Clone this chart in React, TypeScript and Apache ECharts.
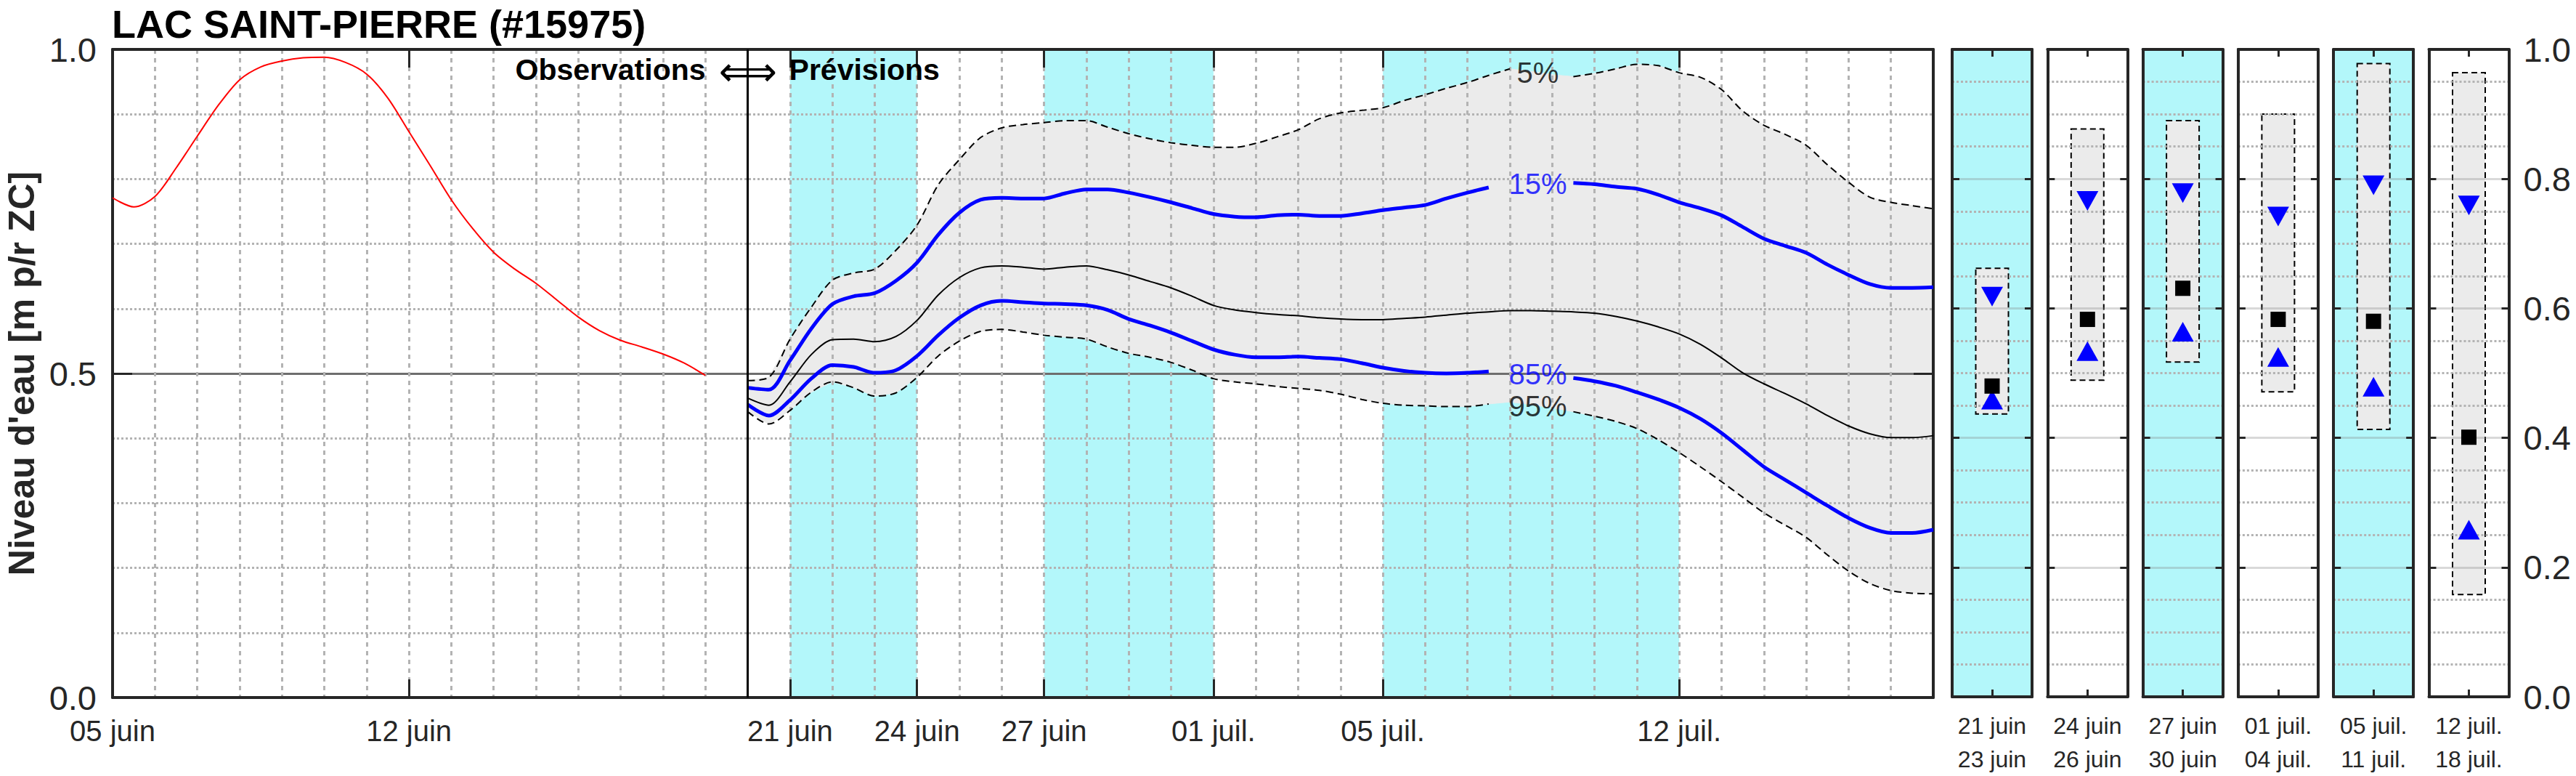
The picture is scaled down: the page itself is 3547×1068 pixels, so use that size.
import React, { useEffect, useRef } from 'react';
import * as echarts from 'echarts';

// ---------- DATA ----------
const TITLE = 'LAC SAINT-PIERRE (#15975)';
const Y_NAME = "Niveau d'eau [m p/r ZC]";

// x = days since 05 juin
const OBS_START = 0;
const OBS_STEP = 0.5;
const obsLevels = [
  0.771, 0.757, 0.773, 0.817, 0.866, 0.914, 0.953, 0.973, 0.982, 0.987,
  0.988, 0.980, 0.962, 0.925, 0.873, 0.821, 0.768, 0.724, 0.687, 0.661,
  0.639, 0.613, 0.587, 0.566, 0.551, 0.541, 0.530, 0.516, 0.497,
];

const FC_START = 15;
const FC_STEP = 0.5;
const p05 = [
  0.489, 0.494, 0.553, 0.602, 0.644, 0.655, 0.661, 0.690, 0.729, 0.791,
  0.830, 0.864, 0.879, 0.884, 0.887, 0.890, 0.890, 0.880, 0.870, 0.862,
  0.856, 0.852, 0.849, 0.849, 0.855, 0.865, 0.876, 0.893, 0.902, 0.906,
  0.910, 0.921, 0.930, 0.940, 0.949, 0.960, 0.970, 0.966, 0.961, 0.958,
  0.963, 0.970, 0.977, 0.975, 0.964, 0.957, 0.938, 0.905, 0.883, 0.869,
  0.852, 0.822, 0.795, 0.772, 0.764, 0.759, 0.754,
];
const p15 = [
  0.478, 0.475, 0.520, 0.569, 0.607, 0.619, 0.624, 0.643, 0.671, 0.714,
  0.748, 0.768, 0.771, 0.770, 0.770, 0.778, 0.784, 0.784, 0.779, 0.772,
  0.764, 0.755, 0.746, 0.742, 0.741, 0.744, 0.745, 0.743, 0.743, 0.747,
  0.752, 0.756, 0.760, 0.770, 0.779, 0.787, 0.792, 0.794, 0.795, 0.794,
  0.792, 0.788, 0.785, 0.776, 0.764, 0.755, 0.744, 0.726, 0.708, 0.697,
  0.686, 0.668, 0.652, 0.638, 0.632, 0.632, 0.633,
];
const p50 = [
  0.462, 0.451, 0.487, 0.529, 0.552, 0.553, 0.549, 0.557, 0.582, 0.621,
  0.648, 0.663, 0.666, 0.664, 0.661, 0.664, 0.666, 0.660, 0.652, 0.642,
  0.632, 0.619, 0.605, 0.598, 0.594, 0.591, 0.589, 0.586, 0.584, 0.583,
  0.583, 0.585, 0.587, 0.590, 0.593, 0.595, 0.597, 0.597, 0.596, 0.595,
  0.593, 0.588, 0.581, 0.572, 0.561, 0.545, 0.524, 0.501, 0.484, 0.469,
  0.453, 0.435, 0.419, 0.407, 0.401, 0.401, 0.404,
];
const p85 = [
  0.452, 0.435, 0.459, 0.492, 0.513, 0.510, 0.501, 0.505, 0.527, 0.559,
  0.586, 0.605, 0.612, 0.610, 0.608, 0.607, 0.605, 0.598, 0.584, 0.574,
  0.563, 0.550, 0.537, 0.529, 0.525, 0.525, 0.526, 0.524, 0.522, 0.516,
  0.509, 0.504, 0.501, 0.500, 0.501, 0.503, 0.503, 0.500, 0.496, 0.493,
  0.488, 0.481, 0.471, 0.460, 0.447, 0.430, 0.408, 0.382, 0.356, 0.336,
  0.316, 0.296, 0.277, 0.262, 0.254, 0.254, 0.259,
];
const p95 = [
  0.441, 0.422, 0.443, 0.471, 0.487, 0.478, 0.465, 0.470, 0.494, 0.527,
  0.550, 0.565, 0.568, 0.564, 0.559, 0.556, 0.553, 0.541, 0.531, 0.525,
  0.517, 0.505, 0.492, 0.487, 0.484, 0.480, 0.477, 0.474, 0.468, 0.460,
  0.454, 0.451, 0.450, 0.449, 0.449, 0.453, 0.456, 0.452, 0.447, 0.441,
  0.434, 0.426, 0.415, 0.398, 0.378, 0.356, 0.333, 0.309, 0.285, 0.266,
  0.247, 0.220, 0.195, 0.176, 0.165, 0.161, 0.160,
];

const X_MAX = 43;
const SEPARATOR_DAY = 15;
const tickDays = [0, 7, 16, 19, 22, 26, 30, 37];
const tickLabels = ['05 juin', '12 juin', '21 juin', '24 juin', '27 juin', '01 juil.', '05 juil.', '12 juil.'];
const bandStarts = [16, 22, 30];
const bandEnds = [19, 26, 37];

// percentile curve labels
const labelDay = 33.66;
const pctLabels = ['5%', '15%', '85%', '95%'];
const pctLabelValues = [0.964, 0.793, 0.499, 0.449];
const gapNarrow = [33.25, 34.25];
const gapWide = [32.75, 34.25];

// period summaries
const periodLabels = ['21 juin\n23 juin', '24 juin\n26 juin', '27 juin\n30 juin', '01 juil.\n04 juil.', '05 juil.\n11 juil.', '12 juil.\n18 juil.'];
const periodShaded = [true, false, true, false, true, false];
const periodP05 = [0.662, 0.877, 0.890, 0.900, 0.978, 0.964];
const periodP15 = [0.618, 0.766, 0.778, 0.742, 0.790, 0.759];
const periodP50 = [0.480, 0.583, 0.631, 0.583, 0.580, 0.401];
const periodP85 = [0.459, 0.534, 0.564, 0.525, 0.479, 0.258];
const periodP95 = [0.437, 0.489, 0.517, 0.471, 0.413, 0.158];

// ---------- STYLE ----------
const FONT = '"Liberation Sans", Arial, Helvetica, sans-serif';
const AXIS_COLOR = '#262626';
const CYAN = '#b3f7fa';
const FILL = '#ebebeb';
const GRID_GRAY = '#b3b3b3';
const BLUE = '#0000ff';
const SMOOTH = 0.3;

const MAIN = { left: 155, top: 68, width: 2507, height: 892 };
const PANEL_LEFT = 2688;
const PANEL_STEP = 131.3;
const PANEL_W = 110;
const BOX_W = 45;

const fcDay = (i: number) => FC_START + i * FC_STEP;
const fc = (arr: number[], gap?: number[]) =>
  arr.map((v, i) => {
    const d = fcDay(i);
    if (gap && d > gap[0] && d < gap[1]) return [d, '-'];
    return [d, v];
  });

const frameLine = { show: true, onZero: false, lineStyle: { color: AXIS_COLOR, width: 4 } };

function buildOption(): any {
  const obs = obsLevels.map((v, i) => [OBS_START + i * OBS_STEP, v]);

  const grids: any[] = [{ ...MAIN }];
  const xAxes: any[] = [
    // daily grid lines (data axis)
    {
      gridIndex: 0, type: 'value', min: 0, max: X_MAX, interval: 1, position: 'bottom', z: 3,
      axisLine: { show: false }, axisTick: { show: false }, axisLabel: { show: false },
      splitLine: { show: true, lineStyle: { color: GRID_GRAY, width: 3, type: [6, 6] } },
    },
    // labelled dates
    {
      gridIndex: 0, type: 'value', min: 0, max: X_MAX, interval: 1, position: 'bottom', z: 3,
      axisLine: frameLine,
      axisTick: { show: true, inside: true, length: 25, customValues: tickDays, lineStyle: { color: AXIS_COLOR, width: 3 } },
      axisLabel: {
        show: true, customValues: tickDays, margin: 26, fontSize: 40, color: AXIS_COLOR, fontFamily: FONT,
        formatter: (v: number) => { const k = tickDays.indexOf(Math.round(v)); return k >= 0 ? tickLabels[k] : ''; },
      },
      splitLine: { show: false },
    },
    {
      gridIndex: 0, type: 'value', min: 0, max: X_MAX, interval: 1, position: 'top', z: 3,
      axisLine: frameLine,
      axisTick: { show: true, inside: true, length: 25, customValues: tickDays, lineStyle: { color: AXIS_COLOR, width: 3 } },
      axisLabel: { show: false },
      splitLine: { show: false },
    },
  ];
  const yAxes: any[] = [
    {
      gridIndex: 0, type: 'value', min: 0, max: 1, interval: 0.5, position: 'left', z: 3,
      axisLine: frameLine,
      axisTick: { show: true, inside: true, length: 27, lineStyle: { color: AXIS_COLOR, width: 3 } },
      axisLabel: { show: true, margin: 22, fontSize: 47, color: AXIS_COLOR, fontFamily: FONT, formatter: (v: number) => v.toFixed(1) },
      splitLine: { show: true, lineStyle: { color: '#6e6e6e', width: 3 } },
      minorTick: { show: false, splitNumber: 5 },
      minorSplitLine: { show: true, lineStyle: { color: GRID_GRAY, width: 3, type: [3, 3] } },
    },
    {
      gridIndex: 0, type: 'value', min: 0, max: 1, interval: 0.5, position: 'right', z: 3,
      axisLine: frameLine,
      axisTick: { show: true, inside: true, length: 27, lineStyle: { color: AXIS_COLOR, width: 3 } },
      axisLabel: { show: false },
      splitLine: { show: false },
    },
  ];

  const series: any[] = [
    {
      type: 'custom', name: 'band', xAxisIndex: 0, yAxisIndex: 0, z: 2, silent: true,
      data: p05.map((v, i) => [fcDay(i), v, p95[i]]),
      encode: { x: 0, y: [1, 2] },
      renderItem: (params: any, api: any) => {
        if (params.dataIndex !== 0) return null;
        const up = p05.map((v, i) => api.coord([fcDay(i), v]));
        const lo = p95.map((v, i) => api.coord([fcDay(i), v])).reverse();
        return { type: 'polygon', shape: { points: up.concat(lo) }, style: { fill: FILL, stroke: FILL, lineWidth: 1 } };
      },
    },
    {
      type: 'line', name: '95%', xAxisIndex: 0, yAxisIndex: 0, data: fc(p95, gapWide), smooth: SMOOTH, symbol: 'none',
      connectNulls: false, lineStyle: { color: '#000', width: 2, type: [10, 6] }, z: 4,
    },
    {
      type: 'line', name: '5%', xAxisIndex: 0, yAxisIndex: 0, data: fc(p05, gapNarrow), smooth: SMOOTH, symbol: 'none',
      connectNulls: false, lineStyle: { color: '#000', width: 2, type: [10, 6] }, z: 4,
    },
    {
      type: 'line', name: '85%', xAxisIndex: 0, yAxisIndex: 0, data: fc(p85, gapWide), smooth: SMOOTH, symbol: 'none',
      connectNulls: false, lineStyle: { color: BLUE, width: 5 }, z: 5,
    },
    {
      type: 'line', name: '15%', xAxisIndex: 0, yAxisIndex: 0, data: fc(p15, gapWide), smooth: SMOOTH, symbol: 'none',
      connectNulls: false, lineStyle: { color: BLUE, width: 5 }, z: 5,
    },
    {
      type: 'line', name: '50%', xAxisIndex: 0, yAxisIndex: 0, data: fc(p50), smooth: SMOOTH, symbol: 'none',
      lineStyle: { color: '#000', width: 2 }, z: 5,
    },
    {
      type: 'line', name: 'obs', xAxisIndex: 0, yAxisIndex: 0, data: obs, smooth: SMOOTH, symbol: 'none',
      lineStyle: { color: '#ff0000', width: 2 }, z: 5,
      markArea: {
        silent: true, z: 1,
        itemStyle: { color: CYAN, opacity: 1 },
        data: bandStarts.map((s, i) => [{ xAxis: s }, { xAxis: bandEnds[i] }]),
      },
      markLine: {
        silent: true, symbol: ['none', 'none'], z: 6,
        label: { show: false },
        lineStyle: { color: '#000', width: 3, type: 'solid' },
        data: [{ xAxis: SEPARATOR_DAY }],
      },
    },
    {
      type: 'scatter', name: 'labels', xAxisIndex: 0, yAxisIndex: 0, symbol: 'circle', symbolSize: 0, z: 7, silent: true,
      data: pctLabelValues.map((v, i) => ({
        value: [labelDay, v],
        label: { color: pctLabels[i] === '15%' || pctLabels[i] === '85%' ? BLUE : '#000' },
      })),
      label: {
        show: true, position: 'inside', fontSize: 40, fontFamily: FONT,
        formatter: (p: any) => pctLabels[p.dataIndex],
      },
    },
  ];

  periodLabels.forEach((lab, i) => {
    const gi = i + 1;
    grids.push({
      left: PANEL_LEFT + i * PANEL_STEP, top: MAIN.top, width: PANEL_W, height: MAIN.height,
      show: true, backgroundColor: periodShaded[i] ? CYAN : '#ffffff', borderWidth: 0,
    });
    const xb = xAxes.length;
    xAxes.push({
      gridIndex: gi, type: 'category', data: [lab], position: 'bottom', z: 3,
      axisLine: frameLine,
      axisTick: { show: true, inside: true, alignWithLabel: true, length: 10, lineStyle: { color: AXIS_COLOR, width: 3 } },
      axisLabel: { show: true, interval: 0, margin: 17, fontSize: 32, lineHeight: 46, color: AXIS_COLOR, fontFamily: FONT },
      splitLine: { show: false },
    });
    xAxes.push({
      gridIndex: gi, type: 'category', data: [lab], position: 'top', z: 3,
      axisLine: frameLine,
      axisTick: { show: true, inside: true, alignWithLabel: true, length: 10, lineStyle: { color: AXIS_COLOR, width: 3 } },
      axisLabel: { show: false },
      splitLine: { show: false },
    });
    const yb = yAxes.length;
    yAxes.push({
      gridIndex: gi, type: 'value', min: 0, max: 1, interval: 0.2, position: 'left', z: 3,
      axisLine: frameLine,
      axisTick: { show: true, inside: true, length: 10, lineStyle: { color: AXIS_COLOR, width: 3 } },
      axisLabel: { show: false },
      splitLine: { show: true, lineStyle: { color: 'rgba(128,128,128,0.3)', width: 3 } },
      minorTick: { show: false, splitNumber: 4 },
      minorSplitLine: { show: true, lineStyle: { color: GRID_GRAY, width: 3, type: [3, 3] } },
    });
    const last = i === periodLabels.length - 1;
    yAxes.push({
      gridIndex: gi, type: 'value', min: 0, max: 1, interval: 0.2, position: 'right', z: 3,
      axisLine: frameLine,
      axisTick: { show: true, inside: true, length: 10, lineStyle: { color: AXIS_COLOR, width: 3 } },
      axisLabel: { show: last, margin: 20, fontSize: 47, color: AXIS_COLOR, fontFamily: FONT, formatter: (v: number) => v.toFixed(1) },
      splitLine: { show: false },
    });
    series.push({
      type: 'custom', xAxisIndex: xb, yAxisIndex: yb, z: 2, silent: true,
      data: [[0, periodP05[i], periodP95[i]]],
      encode: { x: 0, y: [1, 2] },
      renderItem: (_p: any, api: any) => {
        const top = api.coord([api.value(0), api.value(1)]);
        const bot = api.coord([api.value(0), api.value(2)]);
        return {
          type: 'rect',
          shape: { x: top[0] - BOX_W / 2, y: top[1], width: BOX_W, height: bot[1] - top[1] },
          style: { fill: FILL, stroke: '#000', lineWidth: 2, lineDash: [8, 5] },
        };
      },
    });
    const mk = { opacity: 1 };
    series.push({
      type: 'scatter', xAxisIndex: xb, yAxisIndex: yb, z: 5, silent: true,
      data: [[0, periodP15[i]]], symbol: 'triangle', symbolRotate: 180, symbolSize: [30, 27],
      itemStyle: { color: BLUE, ...mk },
    });
    series.push({
      type: 'scatter', xAxisIndex: xb, yAxisIndex: yb, z: 5, silent: true,
      data: [[0, periodP85[i]]], symbol: 'triangle', symbolSize: [30, 27],
      itemStyle: { color: BLUE, ...mk },
    });
    series.push({
      type: 'scatter', xAxisIndex: xb, yAxisIndex: yb, z: 5, silent: true,
      data: [[0, periodP50[i]]], symbol: 'rect', symbolSize: [21, 21],
      itemStyle: { color: '#000', ...mk },
    });
  });

  return {
    animation: false,
    backgroundColor: '#ffffff',
    textStyle: { fontFamily: FONT },
    grid: grids,
    xAxis: xAxes,
    yAxis: yAxes,
    series,
  };
}

export default function App() {
  const ref = useRef<HTMLDivElement>(null);
  useEffect(() => {
    if (!ref.current) return;
    const chart = echarts.init(ref.current, undefined, { renderer: 'svg' });
    chart.setOption(buildOption());
    const sepX = chart.convertToPixel({ xAxisIndex: 0 }, SEPARATOR_DAY) as number;
    const annY = 96;
    chart.setOption({
      graphic: [
        {
          type: 'text', x: MAIN.left - 1, y: 33, z: 20,
          style: { text: TITLE, font: `bold 54px ${FONT}`, fill: '#000', textAlign: 'left', textVerticalAlign: 'middle' },
        },
        {
          type: 'text', x: 30, y: MAIN.top + MAIN.height / 2, rotation: Math.PI / 2, z: 20,
          style: { text: Y_NAME, font: `bold 50px ${FONT}`, fill: AXIS_COLOR, textAlign: 'center', textVerticalAlign: 'middle' },
        },
        {
          type: 'text', x: sepX - 58, y: annY, z: 20,
          style: { text: 'Observations', font: `bold 41px ${FONT}`, fill: '#000', textAlign: 'right', textVerticalAlign: 'middle' },
        },
        {
          type: 'text', x: sepX, y: annY + 2, z: 20,
          style: { text: '⟺', font: `56px "DejaVu Sans", sans-serif`, fill: '#000', textAlign: 'center', textVerticalAlign: 'middle' },
        },
        {
          type: 'text', x: sepX + 57, y: annY, z: 20,
          style: { text: 'Prévisions', font: `bold 41px ${FONT}`, fill: '#000', textAlign: 'left', textVerticalAlign: 'middle' },
        },
      ],
    });
    return () => chart.dispose();
  }, []);
  return <div ref={ref} style={{ position: 'fixed', left: 0, top: 0, width: 3547, height: 1068 }} />;
}
